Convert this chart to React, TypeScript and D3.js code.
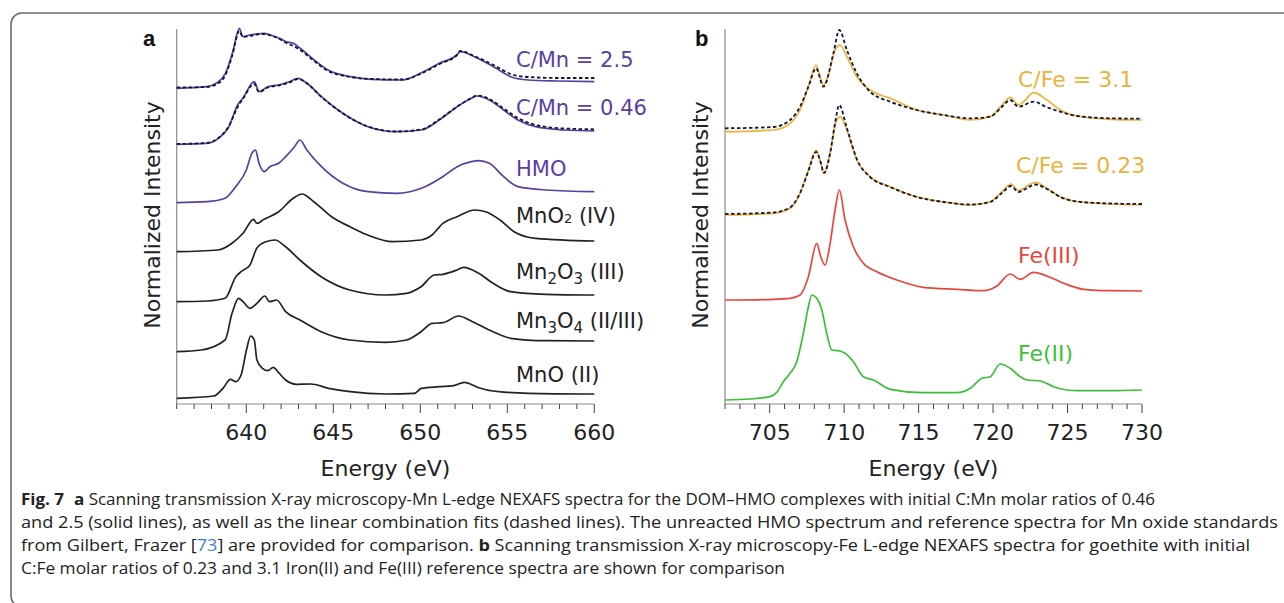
import React from 'react';
import * as d3 from 'd3';

// ---- panel a: Mn L-edge spectra, [energy eV, stacked normalized intensity]
const cmn25: [number, number][] = [
  [636.0, 3.157], [637.7, 3.173], [638.3, 3.21], [638.8, 3.307], [639.2, 3.507], [639.6, 3.757],
  [639.8, 3.673], [640.2, 3.69], [640.6, 3.70], [641.0, 3.707], [641.4, 3.69], [641.9, 3.657],
  [642.3, 3.623], [642.7, 3.607], [643.1, 3.557], [643.9, 3.44], [644.7, 3.34], [646.0, 3.273],
  [647.2, 3.247], [649.0, 3.24], [650.0, 3.307], [651.1, 3.407], [652.1, 3.49], [652.3, 3.523],
  [653.1, 3.473], [654.2, 3.373], [655.2, 3.273], [656.2, 3.24], [657.9, 3.23], [660, 3.223],
];
const cmn25Fit: [number, number][] = [
  [636.0, 3.165], [637.7, 3.17], [638.5, 3.22], [638.8, 3.29], [639.2, 3.49], [639.6, 3.73],
  [639.8, 3.67], [640.2, 3.68], [640.6, 3.695], [641.0, 3.70], [641.4, 3.685], [641.9, 3.65],
  [642.3, 3.61], [642.7, 3.58], [643.1, 3.54], [643.9, 3.43], [644.7, 3.33], [646.0, 3.27],
  [647.2, 3.25], [649.0, 3.245], [650.0, 3.30], [651.1, 3.40], [652.1, 3.49], [652.3, 3.53],
  [653.1, 3.48], [654.2, 3.39], [655.2, 3.30], [656.2, 3.27], [657.9, 3.26], [660, 3.26],
];
const cmn046: [number, number][] = [
  [636.0, 2.597], [637.7, 2.607], [638.4, 2.657], [639.0, 2.773], [639.5, 2.99], [639.8, 3.057],
  [640.46, 3.223], [640.73, 3.123], [641.24, 3.173], [641.86, 3.19], [642.47, 3.223], [642.98, 3.257],
  [643.49, 3.207], [644.32, 3.073], [645.55, 2.907], [646.99, 2.773], [648.63, 2.723], [650.06, 2.74],
  [651.09, 2.84], [652.12, 2.973], [652.94, 3.057], [653.25, 3.08], [653.97, 3.04], [654.79, 2.94],
  [655.61, 2.84], [656.63, 2.773], [658.28, 2.74], [660, 2.73],
];
const cmn046Fit: [number, number][] = [
  [636.0, 2.60], [637.7, 2.61], [638.4, 2.66], [639.0, 2.78], [639.5, 2.97], [639.8, 3.05],
  [640.46, 3.20], [640.73, 3.12], [641.24, 3.165], [641.86, 3.185], [642.47, 3.215], [642.98, 3.25],
  [643.49, 3.205], [644.32, 3.07], [645.55, 2.905], [646.99, 2.775], [648.63, 2.725], [650.06, 2.745],
  [651.09, 2.845], [652.12, 2.975], [652.94, 3.06], [653.25, 3.085], [653.97, 3.05], [654.79, 2.955],
  [655.61, 2.86], [656.63, 2.79], [658.28, 2.755], [660, 2.747],
];
const hmo: [number, number][] = [
  [636.0, 2.013], [637.74, 2.023], [638.78, 2.057], [639.39, 2.173], [640.0, 2.34], [640.32, 2.507],
  [640.53, 2.54], [640.73, 2.407], [641.04, 2.323], [641.35, 2.373], [641.86, 2.407], [642.26, 2.473],
  [642.77, 2.573], [643.08, 2.64], [643.48, 2.54], [644.32, 2.373], [645.55, 2.207], [646.99, 2.123],
  [648.63, 2.107], [650.06, 2.157], [651.29, 2.273], [652.12, 2.373], [652.94, 2.423], [653.35, 2.433],
  [653.97, 2.407], [654.79, 2.273], [655.61, 2.173], [657.25, 2.14], [660, 2.123],
];
const mno2: [number, number][] = [
  [636.0, 1.523], [638.37, 1.54], [639.18, 1.607], [639.81, 1.707], [640.42, 1.847], [640.61, 1.807],
  [641.02, 1.847], [641.86, 1.923], [642.7, 2.057], [643.2, 2.10], [643.88, 2.023], [644.9, 1.873],
  [645.95, 1.773], [646.98, 1.69], [648.4, 1.623], [650.04, 1.64], [650.67, 1.69], [651.3, 1.807],
  [652.11, 1.873], [653.14, 1.94], [653.76, 1.923], [654.58, 1.84], [655.39, 1.723], [656.63, 1.657],
  [660, 1.63],
];
const mn2o3: [number, number][] = [
  [636.0, 1.023], [637.74, 1.03], [638.78, 1.057], [639.4, 1.273], [639.7, 1.323], [640.21, 1.39],
  [640.6, 1.557], [641.13, 1.623], [641.65, 1.64], [642.26, 1.573], [643.08, 1.44], [644.3, 1.273],
  [645.95, 1.14], [648.0, 1.09], [649.2, 1.107], [650.04, 1.173], [650.8, 1.29], [651.3, 1.297],
  [652.11, 1.34], [652.5, 1.367], [653.35, 1.307], [654.18, 1.207], [655.2, 1.123], [657.2, 1.097],
  [660, 1.09],
];
const mn3o4: [number, number][] = [
  [636.0, 0.523], [637.4, 0.54], [638.78, 0.64], [639.18, 0.907], [639.56, 1.057], [639.81, 1.023],
  [640.21, 0.957], [640.61, 1.007], [641.07, 1.08], [641.33, 1.023], [641.74, 1.04], [642.26, 0.923],
  [643.08, 0.84], [644.3, 0.723], [645.95, 0.64], [648.0, 0.617], [649.2, 0.64], [650.04, 0.723],
  [650.67, 0.807], [651.3, 0.813], [652.2, 0.88], [653.0, 0.823], [654.18, 0.723], [655.2, 0.657],
  [657.2, 0.633], [660, 0.63],
];
const mno: [number, number][] = [
  [636.0, 0.057], [638.14, 0.08], [638.66, 0.157], [639.09, 0.247], [639.39, 0.223], [639.7, 0.29],
  [640.01, 0.54], [640.25, 0.68], [640.46, 0.64], [640.61, 0.44], [640.93, 0.357], [641.24, 0.333],
  [641.55, 0.367], [641.86, 0.313], [642.26, 0.24], [642.88, 0.197], [643.7, 0.20], [644.73, 0.157],
  [645.96, 0.123], [648.01, 0.10], [649.66, 0.107], [650.06, 0.157], [651.09, 0.173], [651.91, 0.183],
  [652.53, 0.217], [653.35, 0.163], [654.17, 0.13], [656.22, 0.107], [660, 0.10],
];

// ---- panel b: Fe L-edge spectra
const cfe31: [number, number][] = [
  [702, 2.723], [705.25, 2.74], [706.37, 2.807], [707.04, 2.94], [707.6, 3.173], [708.12, 3.39],
  [708.38, 3.273], [708.61, 3.19], [708.94, 3.29], [709.39, 3.54], [709.73, 3.59], [710.18, 3.473],
  [710.85, 3.273], [711.74, 3.14], [713.09, 3.057], [714.88, 2.94], [716.67, 2.89], [718.47, 2.84],
  [719.81, 2.873], [720.6, 2.99], [721.15, 3.067], [721.71, 2.99], [722.05, 3.023], [722.72, 3.113],
  [723.62, 3.04], [724.51, 2.94], [725.64, 2.88], [727.87, 2.847], [730, 2.84],
];
const cfe31Fit: [number, number][] = [
  [702, 2.757], [705.25, 2.77], [706.37, 2.84], [707.04, 2.973], [707.6, 3.173], [708.12, 3.357],
  [708.61, 3.173], [709.28, 3.507], [709.67, 3.74], [710.18, 3.54], [710.85, 3.307], [711.74, 3.123],
  [713.09, 3.023], [714.88, 2.94], [716.67, 2.89], [718.47, 2.857], [719.81, 2.873], [720.6, 2.973],
  [721.15, 3.04], [721.71, 2.973], [722.72, 3.023], [723.62, 2.967], [724.51, 2.923], [725.64, 2.88],
  [727.87, 2.857], [730, 2.853],
];
const cfe023: [number, number][] = [
  [702, 1.89], [705.25, 1.907], [706.37, 1.957], [707.04, 2.107], [707.6, 2.34], [708.12, 2.54],
  [708.38, 2.44], [708.65, 2.307], [709.05, 2.507], [709.5, 2.84], [709.73, 2.873], [710.18, 2.74],
  [710.85, 2.44], [711.74, 2.273], [713.09, 2.173], [714.88, 2.073], [716.67, 2.023], [718.47, 1.99],
  [719.81, 2.023], [720.6, 2.123], [721.2, 2.20], [721.71, 2.133], [722.05, 2.157], [722.84, 2.217],
  [723.62, 2.157], [724.51, 2.073], [725.64, 2.023], [727.87, 2.0], [730, 1.99],
];
const cfe023Fit: [number, number][] = [
  [702, 1.90], [705.25, 1.915], [706.37, 1.965], [707.04, 2.11], [707.6, 2.33], [708.12, 2.52],
  [708.38, 2.44], [708.65, 2.31], [709.05, 2.50], [709.4, 2.82], [709.67, 2.99], [710.18, 2.76],
  [710.85, 2.45], [711.74, 2.27], [713.09, 2.17], [714.88, 2.07], [716.67, 2.02], [718.47, 1.995],
  [719.81, 2.02], [720.6, 2.11], [721.2, 2.18], [721.71, 2.12], [722.05, 2.14], [722.84, 2.195],
  [723.62, 2.15], [724.51, 2.07], [725.64, 2.025], [727.87, 2.005], [730, 2.0],
];
const fe3: [number, number][] = [
  [702, 1.04], [705.25, 1.047], [706.37, 1.057], [707.04, 1.09], [707.6, 1.273], [708.16, 1.607],
  [708.43, 1.473], [708.72, 1.39], [709.06, 1.607], [709.39, 1.94], [709.68, 2.14], [710.06, 1.84],
  [710.62, 1.573], [711.29, 1.407], [712.2, 1.323], [713.54, 1.24], [715.33, 1.167], [717.57, 1.147],
  [719.36, 1.133], [720.26, 1.18], [721.15, 1.30], [721.82, 1.247], [722.72, 1.317], [723.73, 1.273],
  [724.74, 1.207], [726.08, 1.147], [727.87, 1.133], [730, 1.13],
];
const fe2: [number, number][] = [
  [702, 0.04], [703.68, 0.05], [705.02, 0.073], [705.51, 0.123], [705.92, 0.223], [706.37, 0.307],
  [706.82, 0.423], [707.26, 0.707], [707.6, 0.973], [707.83, 1.09], [708.16, 1.057], [708.5, 0.94],
  [708.83, 0.707], [709.17, 0.54], [709.61, 0.533], [710.06, 0.507], [710.62, 0.423], [711.29, 0.273],
  [711.96, 0.24], [713.09, 0.147], [715.33, 0.113], [717.57, 0.113], [718.47, 0.157], [719.25, 0.257],
  [719.81, 0.273], [720.48, 0.40], [721.15, 0.357], [721.82, 0.273], [722.28, 0.24], [723.17, 0.23],
  [724.06, 0.173], [725.64, 0.133], [727.87, 0.133], [730, 0.14],
];

const mnTicks = [640, 645, 650, 655, 660];
const feTicks = [705, 710, 715, 720, 725, 730];

const PURPLE = '#5a3ea0';
const ORANGE = '#ebb33c';
const RED = '#e6473d';
const GREEN = '#3dbf3a';
const FIT = '#14143a';

const FONT = '"DejaVu Sans", sans-serif';

const xA = d3.scaleLinear().domain([636, 660]).range([176.7, 594.3]);
const xB = d3.scaleLinear().domain([702, 730]).range([725, 1142]);
const y = d3.scaleLinear().domain([0, 3.74]).range([404, 30]);

const Panel: React.FC<{
  x: d3.ScaleLinear<number, number>;
  ticks: number[];
  letter: string;
  letterX: number;
  titleX: number;
}> = ({ x, ticks, letter, letterX, titleX }) => {
  const [x0, x1] = x.domain();
  const minor = d3.range(x0, x1 + 0.5, 1);
  const cx = (x.range()[0] + x.range()[1]) / 2;
  return (
    <g>
      <line x1={x.range()[0]} x2={x.range()[0]} y1={29} y2={404} stroke="#8a8a8a" strokeWidth={1.2} />
      <line x1={x.range()[0]} x2={x.range()[1]} y1={404} y2={404} stroke="#8a8a8a" strokeWidth={1.2} />
      {minor.map((t) => (
        <line key={t} x1={x(t)} x2={x(t)} y1={404} y2={ticks.includes(t) ? 413 : 409} stroke="#444" strokeWidth={1} />
      ))}
      {ticks.map((t) => (
        <text key={t} x={x(t)} y={440} textAnchor="middle" fontSize={22} fill="#222" fontFamily={FONT}>
          {t}
        </text>
      ))}
      <text x={cx} y={476} textAnchor="middle" fontSize={22} fill="#222" fontFamily={FONT}>
        Energy (eV)
      </text>
      <text
        transform={`translate(${titleX},215) rotate(-90)`}
        textAnchor="middle"
        fontSize={22}
        fill="#222"
        fontFamily={FONT}
      >
        Normalized Intensity
      </text>
      <text x={letterX} y={46} fontSize={22} fontWeight="bold" fill="#111" fontFamily='"Liberation Sans", Arial, sans-serif'>
        {letter}
      </text>
    </g>
  );
};

export default function App() {
  const lineA = d3.line<[number, number]>().x((d) => xA(d[0])).y((d) => y(d[1])).curve(d3.curveMonotoneX);
  const lineB = d3.line<[number, number]>().x((d) => xB(d[0])).y((d) => y(d[1])).curve(d3.curveMonotoneX);

  const solid = (d: string | null, color: string) => (
    <path d={d || ''} fill="none" stroke={color} strokeWidth={1.7} strokeLinejoin="round" />
  );
  const dashed = (d: string | null) => (
    <path d={d || ''} fill="none" stroke={FIT} strokeWidth={1.8} strokeDasharray="3.5 2.5" />
  );

  const capFont = '"Open Sans", "Noto Sans", sans-serif';

  return (
    <div style={{ position: 'fixed', left: 0, top: 0, background: '#fff' }}>
      <svg width={1284} height={603} viewBox="0 0 1284 603" style={{ display: 'block', background: '#fff' }}>
        <rect x={11} y={13} width={1300} height={594} rx={11} fill="none" stroke="#6b6b6b" strokeWidth={1.6} />

        <Panel x={xA} ticks={mnTicks} letter="a" letterX={143} titleX={160} />
        <Panel x={xB} ticks={feTicks} letter="b" letterX={695} titleX={708} />

        {/* panel a curves */}
        {solid(lineA(mno), '#222')}
        {solid(lineA(mn3o4), '#222')}
        {solid(lineA(mn2o3), '#222')}
        {solid(lineA(mno2), '#222')}
        {solid(lineA(hmo), PURPLE)}
        {solid(lineA(cmn046), PURPLE)}
        {dashed(lineA(cmn046Fit))}
        {solid(lineA(cmn25), PURPLE)}
        {dashed(lineA(cmn25Fit))}

        <g fontFamily={FONT} fontSize={21}>
          <text x={516} y={67} fill={PURPLE}>C/Mn = 2.5</text>
          <text x={516} y={115} fill={PURPLE}>C/Mn = 0.46</text>
          <text x={516} y={176} fill={PURPLE}>HMO</text>
          <text x={516} y={223} fill="#222">
            MnO<tspan fontSize={13}>2</tspan> (IV)
          </text>
          <text x={516} y={279} fill="#222">
            Mn<tspan fontSize={15} dy={5}>2</tspan>
            <tspan dy={-5}>O</tspan>
            <tspan fontSize={15} dy={5}>3</tspan>
            <tspan dy={-5}> (III)</tspan>
          </text>
          <text x={516} y={328} fill="#222">
            Mn<tspan fontSize={15} dy={5}>3</tspan>
            <tspan dy={-5}>O</tspan>
            <tspan fontSize={15} dy={5}>4</tspan>
            <tspan dy={-5}> (II/III)</tspan>
          </text>
          <text x={516} y={382} fill="#222">MnO (II)</text>
        </g>

        {/* panel b curves */}
        {solid(lineB(fe2), GREEN)}
        {solid(lineB(fe3), RED)}
        {solid(lineB(cfe023), ORANGE)}
        {dashed(lineB(cfe023Fit))}
        {solid(lineB(cfe31), ORANGE)}
        {dashed(lineB(cfe31Fit))}

        <g fontFamily={FONT} fontSize={22}>
          <text x={1018} y={87} fill={ORANGE}>C/Fe = 3.1</text>
          <text x={1016} y={173} fill={ORANGE}>C/Fe = 0.23</text>
          <text x={1018} y={263} fill={RED}>Fe(III)</text>
          <text x={1018} y={361} fill={GREEN}>Fe(II)</text>
        </g>

        {/* caption */}
        <g fontFamily={capFont} fontSize={15.5} fill="#222">
          <text x={21} y={505} textLength={1134} lengthAdjust="spacingAndGlyphs">
            <tspan fontWeight="bold">Fig. 7</tspan>
            <tspan fontWeight="bold" dx={9}>a</tspan> Scanning transmission X-ray microscopy-Mn L-edge NEXAFS spectra for the DOM–HMO complexes with initial C:Mn molar ratios of 0.46
          </text>
          <text x={21} y={528} textLength={1257} lengthAdjust="spacingAndGlyphs">
            and 2.5 (solid lines), as well as the linear combination fits (dashed lines). The unreacted HMO spectrum and reference spectra for Mn oxide standards
          </text>
          <text x={21} y={551} textLength={1229} lengthAdjust="spacingAndGlyphs">
            from Gilbert, Frazer [<tspan fill="#3a7fd0">73</tspan>] are provided for comparison. <tspan fontWeight="bold">b</tspan> Scanning transmission X-ray microscopy-Fe L-edge NEXAFS spectra for goethite with initial
          </text>
          <text x={21} y={574} textLength={764} lengthAdjust="spacingAndGlyphs">
            C:Fe molar ratios of 0.23 and 3.1 Iron(II) and Fe(III) reference spectra are shown for comparison
          </text>
        </g>
      </svg>
    </div>
  );
}
